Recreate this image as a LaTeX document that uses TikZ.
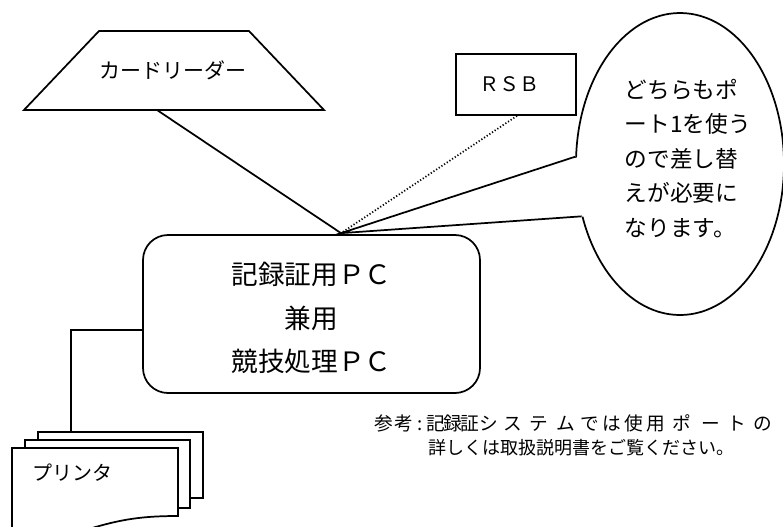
\documentclass[tikz,border=0pt]{standalone}
\usepackage{fontspec}
\setmainfont{Noto Sans CJK JP}
\usetikzlibrary{shapes.geometric,calc}
\newcommand\nch[2]{\makebox[#1pt][c]{#2}}
\begin{document}
\begin{tikzpicture}[x=0.75pt,y=-0.75pt,line width=1.3pt,
  shapebox/.style={draw,fill=white,inner sep=0pt},
  conn/.style={line width=1.3pt},
  dotconn/.style={line width=1.3pt,dash pattern=on 0.9pt off 1.5pt},
  page/.style={draw,fill=white,line width=1.3pt},
  txt/.style={inner sep=0pt}]
\useasboundingbox (0,0) rectangle (783,526);
\clip (0,0) rectangle (783,526);

% card reader
\draw[fill=white] (99,31) -- (249,31) -- (324,110) -- (24,110) -- cycle;
\node[txt,font=\fontsize{15.75pt}{18pt}\selectfont] (reader) at (173,70) {カードリーダー};
\coordinate (rd) at (157,110);

% PC
\node[shapebox,rounded corners=18.75pt,minimum width=252.75pt,minimum height=118.5pt] (pc) at (311.5,314) {};
\node[txt,align=center,font=\fontsize{20pt}{32.6pt}\selectfont] (pctext) at (311.5,318)
  {記録証用ＰＣ\\兼用\\競技処理ＰＣ};

% RSB
\node[shapebox,minimum width=90pt,minimum height=45.75pt] (rsb) at (516,84.5) {};
\node[txt,font=\fontsize{15pt}{18pt}\selectfont] (rsbtext) at (509,84.5) {ＲＳＢ};

% callout
\node[shapebox,ellipse,minimum width=156pt,minimum height=226.5pt] (call) at (680,164) {};

\coordinate (tip) at ($(pc.north)+(29.5,-1)$);

\draw[conn] (rd) -- (tip);
\draw[dotconn] ($(rsb.south)+(1,0)$) -- (tip);

\fill[white] (tip) -- ($(call.176)+(4,0)$) -- ($(call.208)+(4,0)$) -- cycle;
\draw[conn,line join=miter] (call.176) -- (tip) -- (call.208);

\node[anchor=west,align=left,txt,font=\fontsize{17pt}{25.9pt}\selectfont]
  (ctext) at (624,158.5) {どちらもポ\\ート1を使う\\ので差し替\\えが必要に\\なります。};

% printer
\coordinate (pcl) at (pc.west |- 0,330);
\coordinate (prtop) at (71,432);
\draw[conn] (pcl) -| (prtop);
\draw[page] (38,432) rectangle (203,498);
\draw[page] (25,440) rectangle (190,508);
\draw[page] (12,560) -- (12,448) -- (178,448) -- (178,516)
  .. controls (130,516) and (110,522) .. (60,538) .. controls (40,544) and (20,548) .. (12,548) -- cycle;
\node[txt,font=\fontsize{15pt}{18pt}\selectfont] (prn) at (72,473) {プリンタ};

% note
\node[anchor=west,txt,font=\fontsize{14pt}{18pt}\selectfont] (note1) at (372,423)
  {\nch{16.5}{参}\nch{13.5}{考}\nch{11.25}{:}\nch{12.375}{記}\nch{12.375}{録}\nch{13.125}{証}%
   \nch{16.125}{シ}\nch{19.125}{ス}\nch{20.25}{テ}\nch{19.5}{ム}\nch{17.25}{で}\nch{16.125}{は}%
   \nch{16.125}{使}\nch{17.625}{用}\nch{21.375}{ポ}\nch{21}{ー}\nch{18.75}{ト}\nch{19.5}{の}};
\node[anchor=west,txt,font=\fontsize{13.5pt}{18pt}\selectfont] (note2) at (428,448)
  {詳しくは取扱説明書をご覧ください。};
\end{tikzpicture}
\end{document}
